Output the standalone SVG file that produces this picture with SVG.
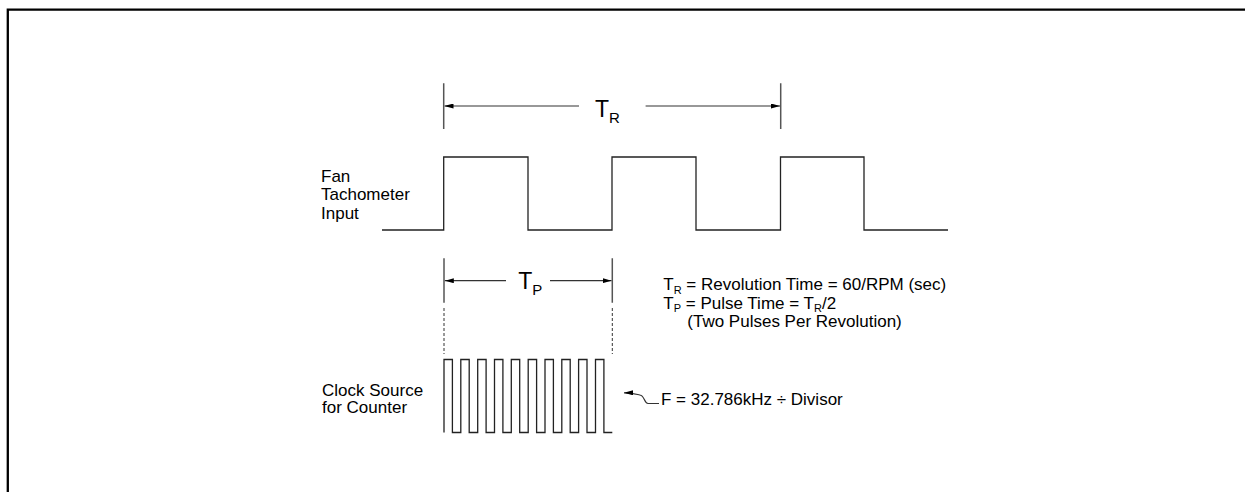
<svg xmlns="http://www.w3.org/2000/svg" width="1245" height="492" viewBox="0 0 1245 492">
<style>
  .txt { font-family: "Liberation Sans", Arial, sans-serif; font-size: 17px; fill: #000; }
  .big { font-family: "Liberation Sans", Arial, sans-serif; font-size: 23px; fill: #000; }
  .sub { font-size: 11px; }
  .wave { fill: none; stroke: #222; stroke-width: 1.3; }
  .dim { fill: none; stroke: #333; stroke-width: 1.2; }
  .tick { fill: none; stroke: #555; stroke-width: 1.5; }
  .guide { fill: none; stroke: #333; stroke-width: 1; stroke-dasharray: 3 2; }
</style>
<defs>
  <marker id="ah" viewBox="0 0 9 5" refX="9" refY="2.5" markerWidth="9" markerHeight="5" markerUnits="userSpaceOnUse" orient="auto">
    <path d="M0,0 L9,2.5 L0,5 z" fill="#000"/>
  </marker>
</defs>
<rect width="1245" height="492" fill="#fff"/>
<path id="border" d="M7.8,492 V9.6 H1245" fill="none" stroke="#000" stroke-width="2.3"/>

<g id="tach-label">
  <text class="txt" x="321" y="181.5">Fan</text>
  <text class="txt" x="321" y="200">Tachometer</text>
  <text class="txt" x="321" y="218.5">Input</text>
</g>
<g id="tach-signal">
  <path class="wave" d="M382,230 H443.7 V157 H528 V230 H612 V157 H696 V230 H780.5 V157 H864 V230 H948"/>
</g>

<g id="clock-label">
  <text class="txt" x="322" y="395.5">Clock Source</text>
  <text class="txt" x="322" y="413">for Counter</text>
</g>
<g id="clock-signal">
  <path class="wave" d="M444,432.5 V359.5 H452.4 V432.5 H460.8 V359.5 H469.2 V432.5 H477.7 V359.5 H486.1 V432.5 H494.5 V359.5 H502.9 V432.5 H511.3 V359.5 H519.7 V432.5 H528.2 V359.5 H536.6 V432.5 H545 V359.5 H553.4 V432.5 H561.8 V359.5 H570.2 V432.5 H578.6 V359.5 H587 V432.5 H595.5 V359.5 H603.9 V432.5 H612.3"/>
</g>

<g id="tr-dimension">
  <path class="tick" d="M443.7,83.3 V129 M780.7,83.3 V129"/>
  <text class="big" x="595" y="117">T<tspan font-size="15" dy="6">R</tspan></text>
</g>
<g id="tp-dimension">
  <path class="tick" d="M444,258.3 V302.7 M612.3,258.3 V302.7"/>
  <text class="big" x="518.3" y="289">T<tspan font-size="15" dy="6">P</tspan></text>
</g>
<g id="guides">
  <path class="guide" d="M444,308 V354 M612.3,308 V354"/>
</g>

<g id="legend">
  <text class="txt" x="663.3" y="290">T<tspan class="sub" dy="3.5">R</tspan><tspan dy="-3.5"> = Revolution Time = 60/RPM (sec)</tspan></text>
  <text class="txt" x="663.3" y="308.5">T<tspan class="sub" dy="3.5">P</tspan><tspan dy="-3.5"> = Pulse Time = T</tspan><tspan class="sub" dy="3.5">R</tspan><tspan dy="-3.5">/2</tspan></text>
  <text class="txt" x="687.3" y="327">(Two Pulses Per Revolution)</text>
</g>
<g id="freq-note">
  <text class="txt" x="661" y="405">F = 32.786kHz ÷ Divisor</text>
</g>

<g id="connectors">
  <path class="dim" d="M579,106 H444.5" marker-end="url(#ah)"/>
  <path class="dim" d="M645.6,106 H780" marker-end="url(#ah)"/>
  <path class="dim" d="M506,280.7 H444.8" marker-end="url(#ah)"/>
  <path class="dim" d="M550,280.7 H611.5" marker-end="url(#ah)"/>
  <path class="dim" d="M659,403.5 H648 C644,403.5 645,396 640,395 C636,394 632,392.8 624,392.8" marker-end="url(#ah)"/>
</g>
</svg>
